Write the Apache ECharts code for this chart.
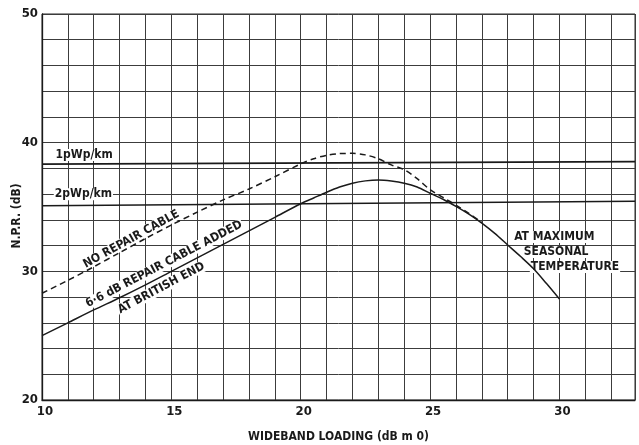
<!DOCTYPE html>
<html>
<head>
<meta charset="utf-8">
<script src="https://cdn.jsdelivr.net/npm/echarts@6/dist/echarts.min.js"></script>
<style>
html,body{margin:0;padding:0;background:#fff;}
#c{width:639px;height:445px;}
</style>
</head>
<body>
<div id="c"></div>
<script>
// Wideband loading (dBm0) vs N.P.R. (dB)
const solidLoading = [10,11,12,13,14,15,16,17,18,19,20,20.5,21,21.5,22,22.5,23,23.5,24,24.5,25,25.5,26,26.5,27,27.5,28,28.5,29,29.5,30];
const solidNPR     = [25.0,26.0,27.0,27.95,28.95,30.0,31.05,32.1,33.15,34.2,35.25,35.7,36.15,36.55,36.85,37.03,37.1,37.02,36.85,36.55,36.07,35.6,35.05,34.45,33.75,32.95,32.05,31.15,30.2,29.05,27.85];

const dashLoading = [10,11,12,13,14,15,16,17,18,19,20,20.5,21,21.5,22,22.5,23,23.5,24,24.5,25,25.5,26,26.5,27];
const dashNPR     = [28.3,29.3,30.35,31.45,32.55,33.6,34.6,35.55,36.4,37.35,38.35,38.75,39.02,39.15,39.17,39.05,38.75,38.27,37.9,37.2,36.35,35.74,35.15,34.5,33.8];

const refLoading = [10, 32.92];
const onePwNPR = [38.33, 38.53];
const twoPwNPR = [35.1, 35.45];

const xTicks = [10,15,20,25,30];
const yTicks = [20,30,40,50];

const annotations = [
  {text:'1pWp/km', x:11.63, y:39.05, rotate:0},
  {text:'2pWp/km', x:11.6, y:36.0, rotate:0},
  {text:'NO REPAIR CABLE', x:13.45, y:32.5, rotate:29},
  {text:'6·6 dB REPAIR CABLE ADDED', x:14.72, y:30.55, rotate:27.5},
  {text:'AT BRITISH END', x:14.61, y:28.7, rotate:28},
  {text:'AT MAXIMUM', x:29.8, y:32.67, rotate:0},
  {text:'SEASONAL', x:29.87, y:31.5, rotate:0},
  {text:'TEMPERATURE', x:30.6, y:30.34, rotate:0}
];

const FONT = "'DejaVu Sans Condensed','Liberation Sans Narrow','Roboto Condensed',sans-serif";
const INK = '#1a1a1a';
const GRID = '#3c3c3c';

const zip = (xs, ys) => xs.map((x, i) => [x, ys[i]]);

const chart = echarts.init(document.getElementById('c'), null, {renderer:'canvas'});
chart.setOption({
  backgroundColor:'#ffffff',
  animation:false,
  grid:{left:42, right:4, top:14, bottom:45, outerBoundsMode:'none', containLabel:false,
    show:true, borderColor:'#2a2a2a', borderWidth:1, backgroundColor:'transparent'},
  xAxis:{
    type:'value', min:10, max:32.92, interval:1,
    name:'WIDEBAND LOADING (dB m 0)', nameLocation:'middle', nameGap:31, nameMoveOverlap:false,
    nameTextStyle:{fontFamily:FONT, fontWeight:'bold', fontSize:12, color:INK},
    axisLine:{show:true, lineStyle:{color:INK, width:1.3}},
    axisTick:{show:false},
    axisLabel:{fontFamily:FONT, fontWeight:'bold', fontSize:13, color:INK, margin:5,
      showMaxLabel:false, padding:[0,0,0,6],
      formatter:v => xTicks.includes(Math.round(v*100)/100) ? String(v) : ''},
    splitLine:{show:true, lineStyle:{color:GRID, width:1}}
  },
  yAxis:{
    type:'value', min:20, max:50, interval:2,
    name:'N.P.R. (dB)', nameLocation:'middle', nameGap:19, nameRotate:90, nameMoveOverlap:false,
    nameTextStyle:{fontFamily:FONT, fontWeight:'bold', fontSize:12, color:INK, padding:[0,18,0,0]},
    axisLine:{show:true, lineStyle:{color:INK, width:1.3}},
    axisTick:{show:false},
    axisLabel:{fontFamily:FONT, fontWeight:'bold', fontSize:13, color:INK, margin:4,
      formatter:v => yTicks.includes(v) ? String(v) : ''},
    splitLine:{show:true, lineStyle:{color:GRID, width:1}}
  },
  series:[
    {
      type:'scatter', name:'annotations', z:1, symbolSize:0, silent:true,
      itemStyle:{opacity:1},
      data: annotations.map(a => ({
        value:[a.x, a.y],
        label:{show:true, formatter:a.text, rotate:a.rotate, position:'inside',
          align:'center', verticalAlign:'middle', opacity:1,
          fontFamily:FONT, fontWeight:'bold', fontSize:12, color:INK,
          textBorderWidth:0,
          backgroundColor:'#ffffff', padding:[0,1]}
      }))
    },
    {type:'line', name:'1pWp/km', z:3, data:zip(refLoading, onePwNPR), symbol:'none',
      lineStyle:{color:INK, width:1.6}},
    {type:'line', name:'2pWp/km', z:3, data:zip(refLoading, twoPwNPR), symbol:'none',
      lineStyle:{color:INK, width:1.6}},
    {type:'line', name:'No repair cable', z:3, data:zip(dashLoading, dashNPR), symbol:'none', smooth:0.3,
      lineStyle:{color:INK, width:1.5, type:[6,4]}},
    {type:'line', name:'6.6 dB repair cable added', z:4, data:zip(solidLoading, solidNPR), symbol:'none', smooth:0.3,
      lineStyle:{color:INK, width:1.5}}
  ]
});
</script>
</body>
</html>
